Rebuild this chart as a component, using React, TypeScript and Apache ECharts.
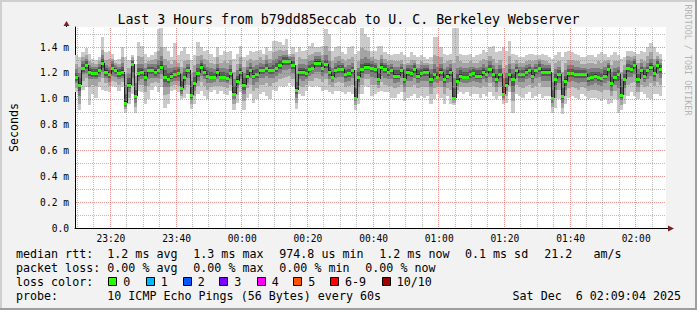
import React, { useEffect, useRef } from 'react';
import * as echarts from 'echarts';

// ---------- data ----------
const FIRST_BIN_MINUTE = 9; // 23:09, minutes after 23:00
const AXIS_START_MINUTE = 9 + 4 / 60; // 23:09:04
const AXIS_SPAN_MINUTES = 180;
const Y_MAX = 1.556;

// median rtt per minute, hundredths of ms
const medianHundredths = [
  117, 111, 124, 126, 121, 120, 120, 122, 128, 121,
  119, 124, 122, 120, 121, 97, 111, 127, 102, 120,
  121, 117, 122, 122, 121, 122, 125, 117, 115, 118,
  119, 120, 108, 117, 122, 103, 112, 120, 125, 121,
  118, 117, 117, 121, 117, 117, 116, 120, 104, 114,
  121, 111, 118, 122, 118, 119, 122, 122, 124, 122,
  122, 124, 126, 129, 129, 129, 126, 107, 121, 121,
  120, 123, 124, 128, 128, 124, 127, 121, 117, 122,
  123, 123, 119, 120, 122, 101, 117, 123, 125, 125,
  124, 123, 115, 125, 123, 121, 122, 118, 118, 122,
  115, 121, 120, 123, 118, 120, 121, 121, 115, 119,
  117, 121, 115, 118, 121, 101, 114, 118, 117, 117,
  119, 120, 118, 118, 121, 119, 123, 119, 115, 119,
  104, 111, 119, 115, 122, 119, 119, 121, 122, 118,
  122, 124, 121, 121, 121, 101, 115, 119, 102, 114,
  120, 120, 119, 119, 119, 119, 116, 117, 118, 117,
  116, 118, 123, 112, 117, 119, 103, 115, 124, 123,
  126, 115, 122, 118, 122, 125, 120, 126, 123,
];

// the 10 sorted pings per minute, hundredths of ms
const pingRowsHundredths = [
  [105,108,112,114,116,118,120,123,127,134],
  [91,96,102,106,110,112,116,120,125,132],
  [107,114,119,121,123,125,127,129,132,136],
  [109,116,120,123,125,127,129,131,134,139],
  [95,109,115,118,120,122,124,126,129,135],
  [104,111,115,117,119,121,123,125,128,131],
  [101,110,115,117,119,121,123,125,127,130],
  [109,113,117,119,121,123,125,127,129,132],
  [107,116,121,124,127,129,131,134,138,148],
  [106,112,116,118,120,122,124,126,130,136],
  [105,110,113,116,118,120,122,125,131,137],
  [110,114,118,121,123,125,127,129,131,135],
  [109,113,117,119,121,123,124,126,128,130],
  [106,111,115,117,119,121,123,125,127,131],
  [109,113,116,118,120,122,125,128,132,140],
  [89,92,94,95,96,98,104,111,119,132],
  [96,101,105,108,110,112,116,119,124,130],
  [104,110,116,121,126,128,129,130,132,134],
  [89,94,97,100,101,103,107,112,118,127],
  [106,111,114,117,119,121,124,127,133,144],
  [105,111,115,118,120,122,124,127,132,141],
  [96,105,110,114,116,118,121,124,128,135],
  [100,110,115,119,121,123,125,127,129,132],
  [107,112,116,119,121,123,125,127,130,134],
  [110,113,116,118,120,122,124,127,131,136],
  [105,112,116,119,121,123,126,130,137,154],
  [109,115,119,122,124,126,129,133,140,155],
  [93,103,109,113,116,118,122,126,131,140],
  [96,104,109,112,114,116,120,124,129,137],
  [106,110,113,115,117,119,121,124,127,132],
  [107,111,114,116,118,120,122,125,130,143],
  [105,110,114,117,119,121,123,125,128,134],
  [100,102,104,106,107,109,114,119,125,137],
  [101,107,111,114,116,118,121,124,129,140],
  [104,111,116,119,121,123,125,127,130,135],
  [92,96,99,101,102,104,109,114,120,130],
  [96,102,106,109,111,113,117,121,126,134],
  [104,110,114,117,119,121,124,127,133,144],
  [106,113,118,122,124,126,128,130,134,140],
  [102,110,115,118,120,122,124,127,131,137],
  [100,107,112,115,117,119,122,125,130,138],
  [105,109,112,115,116,118,121,124,128,135],
  [107,110,113,115,116,118,120,123,127,132],
  [104,110,115,118,120,122,124,127,132,140],
  [106,110,113,115,116,118,121,124,128,134],
  [104,109,113,115,116,118,121,124,129,137],
  [103,108,112,114,115,117,120,123,128,136],
  [106,111,115,117,119,121,123,126,130,137],
  [91,96,100,102,103,105,110,115,121,131],
  [97,103,108,111,113,115,118,122,127,135],
  [105,111,115,118,120,122,124,127,132,141],
  [91,98,104,107,110,112,116,120,125,132],
  [101,108,112,115,117,119,122,125,129,134],
  [104,111,116,119,121,123,125,128,131,137],
  [97,106,111,115,117,119,122,125,129,136],
  [100,108,113,116,118,120,123,126,130,137],
  [104,111,116,119,121,123,125,128,132,138],
  [105,111,116,119,121,123,125,127,130,135],
  [102,112,118,121,123,125,127,130,134,140],
  [100,110,116,119,121,123,125,128,131,137],
  [107,112,116,119,121,123,126,130,136,145],
  [106,113,118,121,123,125,128,131,137,145],
  [110,115,120,123,125,127,130,133,138,144],
  [109,116,122,126,128,130,132,134,137,142],
  [110,117,122,126,128,130,132,134,138,146],
  [112,118,123,126,128,130,131,132,133,135],
  [110,115,120,123,125,127,129,132,135,140],
  [92,97,101,104,106,108,113,119,126,136],
  [104,110,115,118,120,122,124,127,132,140],
  [102,109,114,118,120,122,124,127,131,137],
  [106,111,115,117,119,121,123,126,131,138],
  [110,114,118,121,122,124,126,129,134,141],
  [109,114,119,122,123,125,127,130,135,143],
  [110,116,121,125,127,129,131,133,136,140],
  [109,115,121,125,127,129,131,133,136,140],
  [106,113,118,121,123,125,127,130,134,141],
  [107,115,120,124,126,128,130,134,141,154],
  [105,111,115,118,120,122,125,129,137,150],
  [104,109,113,115,116,118,121,124,129,137],
  [106,112,116,119,121,123,125,128,132,140],
  [106,113,117,120,122,124,126,129,133,141],
  [105,112,117,120,122,124,126,128,131,136],
  [104,109,113,116,118,120,122,125,129,135],
  [105,110,114,117,119,121,123,126,131,140],
  [104,111,116,119,121,123,125,128,132,141],
  [91,95,98,99,100,102,108,114,122,135],
  [96,104,109,113,116,118,121,124,129,137],
  [104,111,116,120,122,124,127,131,139,155],
  [110,115,119,122,124,126,128,132,138,150],
  [109,115,119,122,124,126,128,131,137,148],
  [102,111,117,121,123,125,127,129,132,137],
  [104,111,116,120,122,124,126,128,131,137],
  [105,108,111,113,114,116,120,124,130,141],
  [106,113,118,122,124,126,128,131,134,141],
  [105,111,116,120,122,124,126,128,131,136],
  [105,110,115,118,120,122,124,126,129,135],
  [101,110,115,119,121,123,125,127,130,134],
  [101,108,112,115,117,119,122,125,129,135],
  [104,109,113,115,117,119,122,125,129,135],
  [105,111,116,119,121,123,125,127,130,136],
  [98,105,109,112,114,116,119,123,127,134],
  [101,109,114,118,120,122,124,126,128,132],
  [102,109,114,117,119,121,123,126,130,136],
  [104,111,116,120,122,124,126,128,130,134],
  [101,108,112,115,117,119,122,124,127,132],
  [102,109,114,117,119,121,123,126,129,134],
  [101,109,114,118,120,122,124,126,128,132],
  [102,109,114,118,120,122,124,126,128,131],
  [96,104,109,112,114,116,119,123,127,132],
  [100,108,113,116,118,120,123,127,134,148],
  [104,109,112,115,116,118,121,125,133,148],
  [101,109,114,118,120,122,124,127,132,140],
  [96,104,109,112,114,116,119,123,128,135],
  [102,108,112,115,117,119,122,125,129,134],
  [96,107,113,118,120,122,124,127,130,135],
  [95,97,99,100,100,102,108,116,128,155],
  [104,107,110,112,113,115,119,124,133,155],
  [105,109,113,115,117,119,122,125,129,135],
  [104,109,112,115,116,118,121,124,128,134],
  [105,109,112,115,116,118,121,124,128,134],
  [102,109,113,116,118,120,122,125,129,135],
  [104,110,114,117,119,121,123,125,128,132],
  [104,109,113,115,117,119,122,124,128,134],
  [101,108,112,115,117,119,122,125,129,135],
  [104,110,115,118,120,122,124,127,131,138],
  [102,109,113,116,118,120,122,125,130,136],
  [105,112,117,120,122,124,126,129,133,140],
  [102,109,113,116,118,120,123,126,131,141],
  [100,105,109,112,114,116,119,123,128,136],
  [102,109,113,116,118,120,123,126,130,137],
  [96,99,101,103,103,105,110,116,124,140],
  [97,102,106,109,110,112,116,120,126,137],
  [105,110,114,116,118,120,123,127,133,145],
  [89,98,105,110,114,116,119,123,128,135],
  [104,111,116,119,121,123,125,127,130,134],
  [102,109,113,116,118,120,122,125,128,132],
  [101,108,113,116,118,120,122,125,128,132],
  [104,110,115,118,120,122,124,126,129,134],
  [105,111,116,119,121,123,125,127,130,135],
  [101,108,112,115,117,119,122,125,129,135],
  [102,110,116,119,121,123,125,127,130,134],
  [104,112,117,121,123,125,127,129,131,134],
  [101,109,114,118,120,122,124,127,130,135],
  [102,109,114,118,120,122,124,126,129,134],
  [102,109,114,118,120,122,124,126,128,132],
  [89,94,97,99,100,102,107,113,120,131],
  [93,101,107,111,114,116,119,123,128,134],
  [100,107,112,116,118,120,122,125,129,136],
  [88,93,97,100,101,103,108,114,121,132],
  [96,102,107,110,113,115,118,122,128,136],
  [101,108,113,117,119,121,123,126,130,137],
  [102,109,114,117,119,121,123,126,130,136],
  [101,108,113,116,118,120,122,125,129,135],
  [100,107,112,116,118,120,122,125,129,134],
  [104,109,113,116,118,120,122,124,127,132],
  [102,108,113,116,118,120,122,124,127,132],
  [100,106,110,113,115,117,120,123,128,134],
  [101,107,111,114,116,118,121,124,128,134],
  [101,107,112,115,117,119,121,124,127,132],
  [100,106,111,114,116,118,121,124,129,135],
  [98,105,110,113,115,117,120,123,128,136],
  [100,107,112,115,117,119,122,125,129,135],
  [96,107,114,119,122,124,126,128,130,132],
  [97,102,106,109,111,113,117,121,126,134],
  [100,106,111,114,116,118,121,124,129,136],
  [89,100,108,114,118,120,122,125,129,134],
  [91,95,99,101,102,104,109,115,121,131],
  [96,103,108,111,114,116,119,122,126,132],
  [102,111,117,121,123,125,127,130,133,137],
  [105,112,117,120,122,124,126,129,132,137],
  [102,113,119,123,125,127,129,131,133,136],
  [100,105,109,112,114,116,119,123,128,135],
  [105,111,116,119,121,123,125,128,131,137],
  [104,109,113,115,117,119,122,125,129,136],
  [101,110,115,119,121,123,125,128,133,140],
  [100,112,118,122,124,126,128,131,136,143],
  [104,110,114,117,119,121,123,126,131,140],
  [104,113,119,123,125,127,129,131,133,136],
  [102,111,116,120,122,124,126,128,131,135],
];

const timeLabelMinutes = [20, 40, 60, 80, 100, 120, 140, 160, 180];
const gridMinutes = [
  10, 15, 20, 25, 30, 35, 40, 45, 50, 55, 60, 65, 70, 75, 80, 85, 90, 95,
  100, 105, 110, 115, 120, 125, 130, 135, 140, 145, 150, 155, 160, 165,
  170, 175, 180, 185,
];
const gridValues = [0.1, 0.2, 0.3, 0.4, 0.5, 0.6, 0.7, 0.8, 0.9, 1.0, 1.1, 1.2, 1.3, 1.4, 1.5];

const titleText = 'Last 3 Hours from b79dd85eccab to U. C. Berkeley Webserver';
const watermarkText = 'RRDTOOL / TOBI OETIKER';
const medianStats = ['median rtt:', '1.2 ms avg', '1.3 ms max', '974.8 us min', '1.2 ms now', '0.1 ms sd', '21.2   am/s'];
const lossStats = ['packet loss:', '0.00 % avg', '0.00 % max', '0.00 % min', '0.00 % now'];
const lossLegendTitle = 'loss color:';
const lossLabels = ['0', '1', '2', '3', '4', '5', '6-9', '10/10'];
const lossColors = ['#26ff00', '#00b8ff', '#0059ff', '#7e00ff', '#ff00ff', '#ff5500', '#ff0000', '#a10000'];
const probeLabel = 'probe:';
const probeText = '10 ICMP Echo Pings (56 Bytes) every 60s';
const dateText = 'Sat Dec  6 02:09:04 2025';

// ---------- styles / layout ----------
const W = 697;
const H = 310;
const GRID = { left: 66, right: 31, top: 27, bottom: 82 };
const FONT = '"DejaVu Sans Mono", monospace';
const SMOKE = ['#cacaca', '#a4a4a4', '#7e7e7e', '#585858', '#323232'];
const MAJOR_GRID = 'rgba(222,79,79,0.6)';
const MINOR_GRID = 'rgba(143,143,143,0.6)';
const ARROW = '#801f1f';

const medianX = [16, 107.3, 193.3, 279.3, 379.3, 465, 544.3];
const lossX = [16, 107.3, 193.3, 279.3, 365.3];
const boxX = [108.3, 145.7, 182.7, 219.3, 256.7, 293.3, 330, 381.7];
const ROW_Y = [254, 268, 282, 296];

const pad2 = (n: number) => (n < 10 ? '0' : '') + n;

export default function App() {
  const ref = useRef<HTMLDivElement>(null);

  useEffect(() => {
    if (!ref.current) return;
    const chart = echarts.init(ref.current, undefined, { renderer: 'svg', width: W, height: H });

    const smokeData = pingRowsHundredths.map((row, i) => [FIRST_BIN_MINUTE + i, ...row.map((v) => v / 100)]);
    const medianData = medianHundredths.map((m, i) => [
      FIRST_BIN_MINUTE + i,
      m / 100,
      (i > 0 ? medianHundredths[i - 1] : m) / 100,
    ]);
    // [x, y, kind]: kind 0 = vertical time line, 1 = horizontal value line
    const gridData = [
      ...gridMinutes.map((v) => [v, 0, 0]),
      ...gridValues.map((v) => [AXIS_START_MINUTE + 1, v, 1]),
    ];

    const legendFont = `11.67px ${FONT}`;
    const text = (x: number, y: number, t: string, extra: any = {}) => ({
      type: 'text',
      x,
      y,
      silent: true,
      style: { text: t, fill: '#000', font: legendFont, align: 'left', verticalAlign: 'middle', ...extra },
    });

    const graphics: any[] = [
      { type: 'rect', shape: { x: 0, y: 0, width: W, height: 2 }, style: { fill: '#cfcfcf' } },
      { type: 'rect', shape: { x: 0, y: 0, width: 2, height: H }, style: { fill: '#cfcfcf' } },
      { type: 'rect', shape: { x: 0, y: H - 2, width: W, height: 2 }, style: { fill: '#9e9e9e' } },
      { type: 'rect', shape: { x: W - 2, y: 0, width: 2, height: H }, style: { fill: '#9e9e9e' } },
      text(W / 2, 19, titleText, { align: 'center', font: `13.24px ${FONT}` }),
      {
        type: 'text',
        x: 687.5,
        y: 60,
        rotation: -Math.PI / 2,
        style: { text: watermarkText, fill: '#b4b4b4', font: `8.4px ${FONT}`, align: 'center', verticalAlign: 'middle' },
      },
      { type: 'line', shape: { x1: 66.5, y1: 23, x2: 66.5, y2: 27 }, style: { stroke: '#000', lineWidth: 1 } },
      { type: 'polygon', shape: { points: [[66.5, 21], [63.5, 26], [69.5, 26]] }, style: { fill: ARROW } },
      { type: 'line', shape: { x1: 666, y1: 228.5, x2: 669, y2: 228.5 }, style: { stroke: '#000', lineWidth: 1 } },
      { type: 'polygon', shape: { points: [[674, 228.5], [668, 225.5], [668, 231.5]] }, style: { fill: ARROW } },
    ];

    medianStats.forEach((t, k) => graphics.push(text(medianX[k], ROW_Y[0], t)));
    lossStats.forEach((t, k) => graphics.push(text(lossX[k], ROW_Y[1], t)));
    graphics.push(text(16, ROW_Y[2], lossLegendTitle));
    lossLabels.forEach((t, k) => {
      graphics.push({
        type: 'rect',
        shape: { x: Math.round(boxX[k]) + 0.5, y: ROW_Y[2] - 4.5, width: 8, height: 8 },
        style: { fill: lossColors[k], stroke: '#000', lineWidth: 1 },
      });
      graphics.push(text(boxX[k] + 15, ROW_Y[2], t));
    });
    graphics.push(text(16, ROW_Y[3], probeLabel));
    graphics.push(text(107.3, ROW_Y[3], probeText));
    graphics.push(text(681, ROW_Y[3], dateText, { align: 'right' }));

    chart.setOption({
      animation: false,
      backgroundColor: '#f2f2f2',
      grid: { ...GRID, show: true, backgroundColor: '#ffffff', borderWidth: 0, containLabel: false },
      xAxis: {
        type: 'value',
        min: AXIS_START_MINUTE,
        max: AXIS_START_MINUTE + AXIS_SPAN_MINUTES,
        axisLine: { show: true, onZero: false, lineStyle: { color: '#000', width: 1 } },
        axisTick: { show: false },
        splitLine: { show: false },
        axisLabel: {
          customValues: timeLabelMinutes,
          margin: 5,
          color: '#000',
          fontFamily: FONT,
          fontSize: 9.6,
          formatter: (v: number) => {
            const tot = 23 * 60 + Math.round(v);
            return pad2(Math.floor(tot / 60) % 24) + ':' + pad2(tot % 60);
          },
        },
      },
      yAxis: {
        type: 'value',
        min: 0,
        max: Y_MAX,
        interval: 0.1,
        name: 'Seconds',
        nameLocation: 'middle',
        nameRotate: 90,
        nameGap: 55,
        nameTextStyle: { color: '#000', fontFamily: FONT, fontSize: 11.67 },
        axisLine: { show: true, lineStyle: { color: '#000', width: 1 } },
        axisTick: { show: false },
        axisLabel: {
          margin: 6,
          color: '#000',
          fontFamily: FONT,
          fontSize: 9.6,
          showMaxLabel: false,
          formatter: (v: number) => {
            const tenths = Math.round(v * 10);
            if (tenths % 2 !== 0 || v > 1.5) return '';
            if (tenths === 0) return '0.0';
            return (tenths / 10).toFixed(1) + ' m';
          },
        },
        splitLine: { show: false },
      },
      graphic: graphics,
      series: [
        {
          type: 'custom',
          name: 'smoke',
          z: 2,
          clip: true,
          silent: true,
          data: smokeData,
          renderItem: (_p: any, api: any) => {
            const x0 = api.value(0);
            const xa = Math.round(api.coord([x0, 0])[0]);
            const xb = Math.round(api.coord([x0 + 1, 0])[0]);
            const children: any[] = [];
            for (let k = 0; k < 5; k++) {
              const lo = api.value(1 + k);
              const hi = api.value(10 - k);
              const yl = Math.round(api.coord([x0, lo])[1]);
              const yh = Math.round(api.coord([x0, hi])[1]);
              children.push({
                type: 'rect',
                shape: { x: xa, y: yh, width: xb - xa, height: Math.max(1, yl - yh) },
                style: { fill: SMOKE[k] },
              });
            }
            return { type: 'group', children };
          },
        },
        {
          type: 'custom',
          name: 'median',
          z: 3,
          clip: true,
          silent: true,
          data: medianData,
          renderItem: (_p: any, api: any) => {
            const x0 = api.value(0);
            const xa = Math.round(api.coord([x0, 0])[0]);
            const xb = Math.round(api.coord([x0 + 1, 0])[0]);
            const ym = Math.round(api.coord([x0, api.value(1)])[1]);
            const yp = Math.round(api.coord([x0, api.value(2)])[1]);
            return {
              type: 'group',
              children: [
                {
                  type: 'line',
                  shape: { x1: xa + 0.5, y1: yp, x2: xa + 0.5, y2: ym },
                  style: { stroke: '#202020', lineWidth: 1 },
                },
                {
                  type: 'rect',
                  shape: { x: xa, y: ym - 1, width: xb - xa, height: 3 },
                  style: { fill: lossColors[0] },
                },
              ],
            };
          },
        },
        {
          // dotted grid, drawn dot by dot at the axis positions of the grid values (on top, as rrdtool does)
          type: 'custom',
          name: 'grid',
          z: 5,
          silent: true,
          clip: false,
          data: gridData,
          renderItem: (_p: any, api: any) => {
            const xv = api.value(0);
            const yv = api.value(1);
            const kind = api.value(2);
            const dots: any[] = [];
            if (kind === 0) {
              const p0 = api.coord([xv, 0]);
              const p1 = api.coord([xv, Y_MAX]);
              const xc = Math.floor(p0[0] - 0.5);
              const fill = Math.round(xv) % 20 === 0 ? MAJOR_GRID : MINOR_GRID;
              for (let y = Math.round(p0[1]) - 2; y >= Math.round(p1[1]); y -= 2) {
                dots.push({ type: 'rect', shape: { x: xc, y, width: 1, height: 1 }, style: { fill } });
              }
            } else {
              const q0 = api.coord([AXIS_START_MINUTE, yv]);
              const q1 = api.coord([AXIS_START_MINUTE + AXIS_SPAN_MINUTES, yv]);
              const yc = Math.round(q0[1]);
              const fill = Math.round(yv * 10) % 2 === 0 ? MAJOR_GRID : MINOR_GRID;
              for (let x = Math.round(q0[0]) + 1; x < Math.round(q1[0]); x += 2) {
                dots.push({ type: 'rect', shape: { x, y: yc, width: 1, height: 1 }, style: { fill } });
              }
            }
            return { type: 'group', children: dots };
          },
        },
      ],
    });

    return () => chart.dispose();
  }, []);

  return <div ref={ref} style={{ position: 'absolute', left: 0, top: 0, width: W, height: H }} />;
}
